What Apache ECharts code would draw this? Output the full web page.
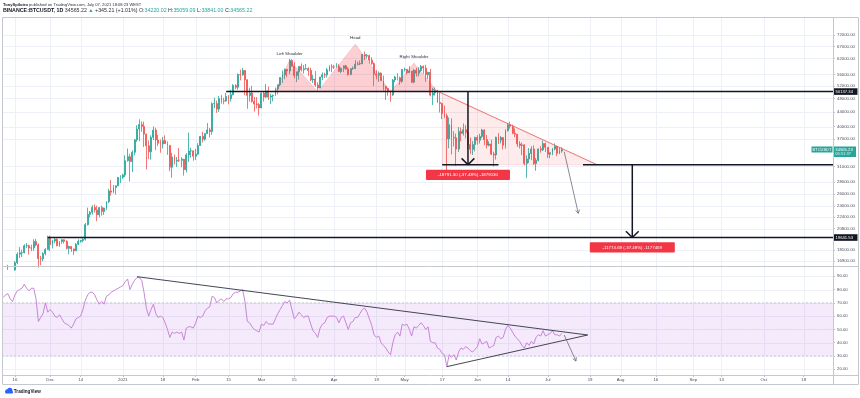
<!DOCTYPE html>
<html><head><meta charset="utf-8">
<script src="https://cdn.jsdelivr.net/npm/echarts@6/dist/echarts.min.js"></script>
<style>html,body{margin:0;padding:0;background:#fff}#c{width:860px;height:398px}</style>
</head><body><div id="c"></div><script>
// ---------- categories (daily, Nov 11 2020 .. Oct 30 2021) ----------
const categories = (function () {
  const out = []; const d = new Date(Date.UTC(2020, 10, 11));
  for (let i = 0; i < 354; i++) { out.push(d.toISOString().slice(0, 10)); d.setUTCDate(d.getUTCDate() + 1); }
  return out;
})();

// ---------- BTCUSDT daily candles, Nov 11 2020 .. Jul 7 2021 ----------
const opens = [
15296,15701,16276,16317,16068,15955,16716,17645,17804,17817,18621,18642,18370,18364,19160,18720,17150,17139,17719,18185,
19695,18765,19205,19422,18650,19148,19359,19167,18324,18541,18255,18036,18809,19175,19274,19427,21335,22797,23107,23821,23455,22719,23810,23232,23729,24712,26493,26281,27079,27385,28876,
28923,29331,32178,33000,31988,33950,36769,39432,40582,40089,38150,35404,34051,37372,39144,36742,35994,35828,36631,35891,35468,30850,32945,32078,32259,32254,32467,30366,33364,34252,34262,
33092,33526,35466,37618,36936,38290,39186,38795,46374,46420,44807,47969,47287,47153,48577,47911,49133,52119,51552,55906,55841,57408,54087,48891,49676,47074,46276,46106,
45135,49587,48440,50349,48374,48751,48882,50971,52376,54884,55851,57773,57221,61188,58968,55605,56900,58912,57648,58030,58102,57351,54083,54340,52303,51293,55025,55817,55777,57635,58746,
58740,58720,58950,57051,58202,59129,57991,55954,58077,58142,59769,59860,59978,63578,62959,63159,61334,60007,56150,55633,56425,53787,51691,51110,50047,49067,54022,55033,54824,53556,
57750,57828,56610,57213,53241,57473,56428,57380,58928,58281,55883,56751,49004,49702,49923,46760,46457,43538,42910,37003,40546,37370,37258,34655,38796,38324,39241,38529,35663,34606,35678,
37333,36693,37569,39187,36826,35520,35796,33553,33381,37389,36683,37313,35546,39020,40516,40144,38349,38093,35820,35484,35601,31608,32509,33679,34664,31593,32275,34700,34494,35912,
35046,33536,33856,34689,35288,33691,34220];
const highs = [
15965,16340,16480,16317,16180,16880,17858,18476,18179,18815,18965,18750,18766,19418,19484,18915,17457,17880,18360,19863,
19888,19342,19566,19527,19177,19420,19420,19294,18639,18557,18292,18948,19411,19349,19570,21560,23800,23285,24171,24295,24102,23837,24100,23789,24789,26867,28422,27500,27410,28996,29300,
29600,33300,34778,33600,34360,36939,40365,41950,41380,41350,38264,36628,37850,40100,39747,37950,36852,37469,37850,36415,35600,33826,33456,32945,34875,32921,32557,33783,38531,34934,34342,
34717,35984,37662,38708,38310,40955,39700,46794,48200,47310,48678,48985,48150,49707,49010,50689,52618,52530,56368,57700,58352,57533,54183,51374,52041,48424,48395,46638,
49790,50200,52640,51773,49448,49200,51450,52402,54900,57387,58150,58058,61844,61683,60633,56938,58982,60074,59468,59880,58589,58430,55830,57200,53230,55073,56700,56559,58400,59368,59800,
59490,60200,59791,58500,59272,59500,58650,58153,58894,61300,60800,61200,63800,64854,63800,63520,62500,60408,57526,57076,56757,55521,52130,51200,50500,54356,55460,56428,55200,57963,
58458,57939,58973,57214,57911,58360,58650,59500,59300,59595,56890,58000,51367,51483,50700,49795,46643,45799,43546,42451,42200,38856,38270,39920,39791,40841,40411,38877,37338,36488,37534,
37894,38225,39476,39289,37921,36457,36800,34068,37534,38400,37680,37438,39380,40978,41330,40528,39559,38200,36457,36137,35750,33298,34881,35298,35500,32730,34749,35297,36600,36100,
35058,33939,34909,35950,35293,35118,35059];
const lows = [
15200,15440,15952,15717,15790,15870,16530,17214,17335,17740,18360,17610,18000,18019,18565,16188,16438,16865,17517,18180,
18001,18330,18925,18565,18500,18857,18902,18200,17650,17911,17572,18020,18711,19000,19050,19278,21230,22350,22750,23060,21815,22353,22600,22703,23433,24500,25700,26101,25880,27320,27850,
28624,28946,31963,28130,29900,33288,36300,36500,38720,35111,30420,32531,32380,36701,34408,35357,33850,34800,35844,33400,30071,28850,31390,30900,31910,30837,29241,29842,31915,32825,32171,
32296,33418,35362,36161,36570,38215,37351,37988,45020,43727,43994,46400,46202,47014,46174,47003,48947,50901,50710,53863,55477,48967,44892,47003,46674,44106,45000,43000,
45115,47047,48100,47500,46300,47070,48882,49274,51846,53005,54272,55013,56078,58966,54600,53271,54120,57023,56270,57820,55450,53650,53000,51700,50427,51225,53950,54691,54902,57071,56769,
57935,58433,56955,56478,56800,57600,55473,55700,57654,57900,59300,59400,59770,61300,62020,60000,59580,52000,54221,53329,53695,50500,47500,48800,47000,48753,53222,53813,52330,53013,
57052,56044,56500,53057,52900,55200,55241,56900,56235,53400,54370,48600,46000,48868,46650,43825,42001,42250,30000,34850,33488,35257,31111,34031,36419,37800,37134,34684,33632,33379,34153,
35666,35920,37170,35555,34800,35258,33300,31000,32396,35782,35936,34600,34757,38757,39506,38116,37365,35129,34803,33336,31251,28805,31683,32286,31275,30151,32000,33862,34225,34017,
32712,32700,33316,34357,33125,33532,33841];
const closes = [
15701,16276,16317,16068,15955,16716,17645,17804,17817,18621,18642,18370,18364,19160,18720,17150,17139,17719,18185,19695,
18765,19205,19422,18650,19148,19359,19167,18324,18541,18255,18036,18809,19175,19274,19427,21335,22797,23107,23821,23455,22719,23810,23232,23729,24712,26493,26281,27079,27385,28876,28923,
29331,32178,33000,31988,33950,36769,39432,40582,40089,38150,35404,34051,37372,39144,36742,35994,35828,36631,35891,35468,30850,32945,32078,32259,32254,32467,30366,33364,34252,34262,33092,
33526,35466,37618,36936,38290,39186,38795,46374,46420,44807,47969,47287,47153,48577,47911,49133,52119,51552,55906,55841,57408,54087,48891,49676,47074,46276,46106,45135,
49587,48440,50349,48374,48751,48882,50971,52376,54884,55851,57773,57221,61188,58968,55605,56900,58912,57648,58030,58102,57351,54083,54340,52303,51293,55025,55817,55777,57635,58746,58740,
58720,58950,57051,58202,59129,57991,55954,58077,58142,59769,59860,59978,63578,62959,63159,61334,60007,56150,55633,56425,53787,51691,51110,50047,49067,54022,55033,54824,53556,57750,
57828,56610,57213,53241,57473,56428,57380,58928,58281,55883,56751,49004,49702,49923,46760,46457,43538,42910,37003,40546,37370,37258,34655,38796,38324,39241,38529,35663,34606,35678,37333,
36693,37569,39187,36826,35520,35796,33553,33381,37389,36683,37313,35546,39020,40516,40144,38349,38093,35820,35484,35601,31608,32509,33679,34664,31593,32275,34700,34494,35912,35046,
33536,33856,34689,35288,33691,34220,34565];

// ---------- RSI(14) ----------
const rsiValues = [
74,76,77,73,71,76,79,80,81,84, 81,79,81,81,73,56,59,62,70,63, 65,63,60,59,61,58,55,54,53,51,
54,58,59,60,65,72,76,78,78,76, 72,69,71,69,75,76,78,79,80,81, 82,83,86,88,80,84,87,89,89,87,
78,66,60,65,69,62,59,60,59,55, 50,44,48,47,48,47,48,42,51,52, 52,51,55,60,59,60,64,66,67,75,
74,70,72,73,71,73,73,74,77,78, 78,79,80,71,56,55,52,50,49,48, 54,53,56,54,54,54,58,62,65,68,
71,70,72,65,58,60,63,61,59,60, 60,54,49,47,44,51,54,55,59,60, 60,60,59,55,59,60,55,50,55,56,
59,59,62,65,66,63,58,53,46,44, 45,40,38,36,33,31,40,46,48,45, 54,53,54,50,45,52,51,53,55,53,
50,52,41,40,40,36,35,32,31,22, 31,29,31,27,33,36,35,37,36,34, 33,35,37,43,39,40,41,36,37,38,
44,45,43,44,50,53,51,48,45,43, 41,38,36,40,38,41,39,44,46,45, 49,45,46,47,49,46,46,45,47];

// ---------- axis ticks ----------
const priceTicks = [16900,18100,20800,22400,24000,26000,28000,31000,37000,40000,44000,48000,52000,56000,62000,67000,72000];
const rsiTicks = [20,30,40,50,60,70,80,90];
const timeTickDates = ['2020-11-16','2020-12-01','2020-12-14','2021-01-01','2021-01-18','2021-02-01','2021-02-15','2021-03-01','2021-03-15','2021-04-01','2021-04-19','2021-05-01','2021-05-17','2021-06-01','2021-06-14','2021-07-01','2021-07-19','2021-08-01','2021-08-16','2021-09-01','2021-09-13','2021-10-01','2021-10-18'];
const timeTickLabels = ['16','Dec','14','2021','18','Feb','15','Mar','15','Apr','19','May','17','Jun','14','Jul','19','Aug','16','Sep','13','Oct','18'];

// ---------- drawings (data coordinates) ----------
const necklinePrice = 50137.34, necklineStart = '2021-02-14';
const supportPrice = 19641.53, supportStart = '2020-11-30';
const basePrice = 31346;
const lastPrice = 34565.23;
const hsLabels = ['Left Shoulder', 'Head', 'Right Shoulder'];
const hsTriangles = [
  [['2021-03-07', 50137.34], ['2021-03-13', 61380], ['2021-03-25', 50137.34]],
  [['2021-03-25', 50137.34], ['2021-04-10', 68050], ['2021-04-25', 50137.34]],
  [['2021-04-25', 50137.34], ['2021-05-05', 60210], ['2021-05-15', 50137.34]]
];
const descLine = [['2021-05-13', 50940], ['2021-07-22', 31346]];
const descFill = [['2021-05-17', 49660], ['2021-07-22', 31346], ['2021-05-17', 31346]];
const measure1Base = [['2021-05-17', 31346], ['2021-06-10', 31346]];
const measure1Arrow = [['2021-05-28', 50137.34], ['2021-05-28', 31346]];
const measure1Text = '-18791.30 (-37.48%) -1879130';
const measure2BaseStart = '2021-07-16';
const measure2Arrow = [['2021-08-06', 31346], ['2021-08-06', 19641.53]];
const measure2Text = '-11774.69 (-37.48%) -1177469';
const projArrow = [['2021-07-08', 34070], ['2021-07-14', 22940]];
const rsiUpperLine = [['2021-01-07', 89.7], ['2021-07-18', 45.8]];
const rsiLowerLine = [['2021-05-19', 22], ['2021-07-18', 45.8]];
const rsiArrow = [['2021-07-08', 45.8], ['2021-07-13', 26.2]];

// ---------- build ----------
const FONT = 'Liberation Sans';
const idx = d => categories.indexOf(d);
const candleData = closes.map((c, i) => [opens[i], c, lows[i], highs[i]]);
const tickSet = new Set(timeTickDates);
const tickLabel = {}; timeTickDates.forEach((d, i) => { tickLabel[d] = timeTickLabels[i]; });

function seg(a, b, style) { return { type: 'line', shape: { x1: a[0], y1: a[1], x2: b[0], y2: b[1] }, style }; }
function arrowHead(p0, p1, len, ang, style) {
  const a = Math.atan2(p1[1] - p0[1], p1[0] - p0[0]);
  return [a + Math.PI - ang, a + Math.PI + ang].map(t => seg(p1, [p1[0] + len * Math.cos(t), p1[1] + len * Math.sin(t)], style));
}
function txt(text, x, y, opt) {
  return { type: 'text', style: Object.assign({ text, x, y, align: 'center', verticalAlign: 'middle', fill: '#2a2e39', fontSize: 4.4, fontFamily: FONT }, opt || {}) };
}

function renderMainGrid(params, api) {
  const cs = params.coordSys, right = cs.x + cs.width, ch = [];
  const st = { stroke: '#edf0f6', lineWidth: 1 };
  priceTicks.forEach(v => { const y = Math.round(api.coord([0, v])[1]) + 0.5; ch.push(seg([cs.x, y], [right, y], st)); });
  timeTickDates.forEach(d => { const x = Math.round(api.coord([idx(d), 30000])[0]) + 0.5; ch.push(seg([x, cs.y], [x, cs.y + cs.height], st)); });
  return { type: 'group', children: ch };
}

function renderMainAnno(params, api) {
  const cs = params.coordSys, right = cs.x + cs.width, ch = [];
  const P = p => api.coord([idx(p[0]), p[1]]);
  // head & shoulders
  hsTriangles.forEach((t, k) => {
    const pts = t.map(P);
    ch.push({ type: 'polygon', shape: { points: pts }, style: { fill: 'rgba(242,54,69,0.24)', stroke: 'rgba(242,54,69,0.28)', lineWidth: 0.5 } });
    ch.push(txt(hsLabels[k], pts[1][0], pts[1][1] - 6.5));
  });
  // descending triangle
  ch.push({ type: 'polygon', shape: { points: descFill.map(P) }, style: { fill: 'rgba(242,54,69,0.10)', stroke: 'rgba(242,54,69,0.25)', lineWidth: 0.5 } });
  ch.push(seg(P(descLine[0]), P(descLine[1]), { stroke: '#f26b6b', lineWidth: 0.9 }));
  const black = { stroke: '#131722', lineWidth: 1.5 };
  // neckline & support
  const n0 = P([necklineStart, necklinePrice]); ch.push(seg(n0, [right, n0[1]], black));
  const s0 = P([supportStart, supportPrice]); ch.push(seg(s0, [right, s0[1]], black));
  // measure 1
  ch.push(seg(P(measure1Base[0]), P(measure1Base[1]), black));
  const a0 = P(measure1Arrow[0]), a1 = P(measure1Arrow[1]);
  ch.push(seg(a0, a1, black)); ch.push(...arrowHead(a0, a1, 9, Math.PI / 4, black));
  ch.push({ type: 'rect', shape: { x: a1[0] - 42, y: a1[1] + 5, width: 84, height: 10.3, r: 1 }, style: { fill: '#f23645' } });
  ch.push(txt(measure1Text, a1[0], a1[1] + 10.2, { fill: '#fff' }));
  // measure 2
  const b0 = P(measure2Arrow[0]), b1 = P(measure2Arrow[1]);
  const m2s = P([measure2BaseStart, basePrice]); ch.push(seg(m2s, [right, m2s[1]], black));
  ch.push(seg(b0, b1, black)); ch.push(...arrowHead(b0, b1, 9, Math.PI / 4, black));
  ch.push({ type: 'rect', shape: { x: b1[0] - 42.5, y: b1[1] + 4.7, width: 85, height: 10.2, r: 1 }, style: { fill: '#f23645' } });
  ch.push(txt(measure2Text, b1[0], b1[1] + 9.8, { fill: '#fff' }));
  // projection arrow
  const g = { stroke: '#6a6d78', lineWidth: 0.8 };
  const g0 = P(projArrow[0]), g1 = P(projArrow[1]);
  ch.push(seg(g0, g1, g)); ch.push(...arrowHead(g0, g1, 4, Math.PI / 6, g));
  // price tags on axis
  [[necklinePrice, '50137.34'], [supportPrice, '19641.53']].forEach(([v, t]) => {
    const y = api.coord([0, v])[1];
    ch.push({ type: 'rect', shape: { x: right + 0.5, y: y - 3.3, width: 24, height: 6.6 }, style: { fill: '#131722' } });
    ch.push(txt(t, right + 2.5, y, { fill: '#fff', align: 'left', fontSize: 4.2 }));
  });
  const yl = api.coord([0, lastPrice])[1];
  ch.push({ type: 'rect', shape: { x: right - 21.5, y: yl - 3, width: 21, height: 6 }, style: { fill: '#26a69a' } });
  ch.push(txt('BTCUSDT', right - 11, yl, { fill: '#fff', fontSize: 4 }));
  ch.push({ type: 'rect', shape: { x: right + 0.5, y: yl - 3, width: 22.5, height: 10.5 }, style: { fill: '#26a69a' } });
  ch.push(txt('34565.23', right + 2.3, yl, { fill: '#fff', align: 'left', fontSize: 4.2 }));
  ch.push(txt('06:51:37', right + 2.3, yl + 4.6, { fill: '#e0f2f1', align: 'left', fontSize: 4 }));
  return { type: 'group', children: ch };
}

function renderRsiBack(params, api) {
  const cs = params.coordSys, right = cs.x + cs.width, ch = [];
  const st = { stroke: '#edf0f6', lineWidth: 1 };
  const y70 = api.coord([0, 70])[1], y30 = api.coord([0, 30])[1], y50 = api.coord([0, 50])[1];
  rsiTicks.forEach(v => { const y = Math.round(api.coord([0, v])[1]) + 0.5; ch.push(seg([cs.x, y], [right, y], st)); });
  timeTickDates.forEach(d => { const x = Math.round(api.coord([idx(d), 50])[0]) + 0.5; ch.push(seg([x, cs.y], [x, cs.y + cs.height], st)); });
  ch.push({ type: 'rect', shape: { x: cs.x, y: y70, width: cs.width, height: y30 - y70 }, style: { fill: 'rgba(170,90,235,0.13)' } });
  const dash = { stroke: '#b4b6c0', lineWidth: 0.6, lineDash: [2, 2] };
  ch.push(seg([cs.x, y70], [right, y70], dash)); ch.push(seg([cs.x, y30], [right, y30], dash));
  ch.push(seg([cs.x, y50], [right, y50], { stroke: '#d9cfe6', lineWidth: 0.5, lineDash: [1, 2] }));
  return { type: 'group', children: ch };
}

function renderRsiAnno(params, api) {
  const ch = [];
  const P = p => api.coord([idx(p[0]), p[1]]);
  const k = { stroke: '#2f3240', lineWidth: 0.9 };
  ch.push(seg(P(rsiUpperLine[0]), P(rsiUpperLine[1]), k));
  ch.push(seg(P(rsiLowerLine[0]), P(rsiLowerLine[1]), k));
  const g = { stroke: '#6a6d78', lineWidth: 0.8 };
  const a0 = P(rsiArrow[0]), a1 = P(rsiArrow[1]);
  ch.push(seg(a0, a1, g)); ch.push(...arrowHead(a0, a1, 4, Math.PI / 6, g));
  return { type: 'group', children: ch };
}

const axisLabelStyle = { fontSize: 4.3, color: '#4a4e5a', fontFamily: FONT };
const option = {
  animation: false,
  backgroundColor: '#ffffff',
  grid: [
    { left: 2, right: 27, top: 18, height: 248 },
    { left: 2, right: 27, top: 267, height: 108 }
  ],
  xAxis: [
    { type: 'category', gridIndex: 0, data: categories, boundaryGap: true, axisLine: { show: false }, axisTick: { show: false }, axisLabel: { show: false }, splitLine: { show: false } },
    { type: 'category', gridIndex: 1, data: categories, boundaryGap: true,
      axisLine: { show: false },
      axisTick: { show: true, alignWithLabel: true, length: 2, interval: (i, v) => tickSet.has(v), lineStyle: { color: '#9598a1', width: 0.6 } },
      axisLabel: Object.assign({ show: true, margin: 3, interval: (i, v) => tickSet.has(v), formatter: v => tickLabel[v] || '' }, axisLabelStyle),
      splitLine: { show: false } }
  ],
  yAxis: [
    { type: 'log', logBase: 10, gridIndex: 0, position: 'right', min: 16360, max: 80400, scale: true,
      axisLine: { show: false }, splitLine: { show: false },
      axisTick: { show: true, length: 2, customValues: priceTicks, lineStyle: { color: '#9598a1', width: 0.6 } },
      axisLabel: Object.assign({ show: true, margin: 4, customValues: priceTicks, formatter: v => Number(v).toFixed(2) }, axisLabelStyle) },
    { type: 'value', gridIndex: 1, position: 'right', min: 15.7, max: 97,
      axisLine: { show: false }, splitLine: { show: false },
      axisTick: { show: true, length: 2, customValues: rsiTicks, lineStyle: { color: '#9598a1', width: 0.6 } },
      axisLabel: Object.assign({ show: true, margin: 4, customValues: rsiTicks, formatter: v => Number(v).toFixed(2) }, axisLabelStyle) }
  ],
  series: [
    { type: 'custom', xAxisIndex: 0, yAxisIndex: 0, data: [[0, 30000]], renderItem: renderMainGrid, z: 1, silent: true, clip: false },
    { type: 'candlestick', xAxisIndex: 0, yAxisIndex: 0, data: candleData, z: 3, barWidth: 1.4, clip: true,
      itemStyle: { color: '#26a69a', color0: '#ef5350', borderColor: '#26a69a', borderColor0: '#ef5350', borderWidth: 0.8 } },
    { type: 'custom', xAxisIndex: 0, yAxisIndex: 0, data: [[0, 30000]], renderItem: renderMainAnno, z: 5, silent: true, clip: false },
    { type: 'custom', xAxisIndex: 1, yAxisIndex: 1, data: [[0, 50]], renderItem: renderRsiBack, z: 1, silent: true, clip: false },
    { type: 'line', xAxisIndex: 1, yAxisIndex: 1, data: rsiValues, z: 3, showSymbol: false, symbol: 'none',
      lineStyle: { color: '#c27ad0', width: 0.9 } },
    { type: 'custom', xAxisIndex: 1, yAxisIndex: 1, data: [[0, 50]], renderItem: renderRsiAnno, z: 5, silent: true, clip: false }
  ],
  graphic: [
    { type: 'rect', silent: true, z: 100, shape: { x: 2.5, y: 17.5, width: 856, height: 367 }, style: { fill: 'none', stroke: '#c5c8cf', lineWidth: 1 } },
    { type: 'line', silent: true, z: 100, shape: { x1: 2.5, y1: 266.5, x2: 858.5, y2: 266.5 }, style: { stroke: '#c5c8cf', lineWidth: 1 } },
    { type: 'line', silent: true, z: 100, shape: { x1: 2.5, y1: 375.5, x2: 858.5, y2: 375.5 }, style: { stroke: '#c5c8cf', lineWidth: 1 } },
    { type: 'line', silent: true, z: 100, shape: { x1: 833.5, y1: 17.5, x2: 833.5, y2: 384.5 }, style: { stroke: '#c5c8cf', lineWidth: 1 } },
    { type: 'text', silent: true, z: 100, left: 3, top: 2.5,
      style: { text: '{b|TonySpilotro} published on TradingView.com, July 07, 2021 18:08:23 WEST', fill: '#2a2e39', fontSize: 4.1, fontFamily: FONT,
        rich: { b: { fontWeight: 'bold', fontSize: 4.1, fontFamily: FONT, fill: '#131722' } } } },
    { type: 'text', silent: true, z: 100, left: 3, top: 8,
      style: { text: '{b|BINANCE:BTCUSDT, 1D} 34565.22 {g|▲} +345.21 (+1.01%) O:{g|34220.02} H:{g|35059.09} L:{g|33841.00} C:{g|34565.22}', fill: '#2a2e39', fontSize: 5.3, fontFamily: FONT,
        rich: { b: { fontWeight: 'bold', fontSize: 5.3, fontFamily: FONT, fill: '#131722' }, g: { fill: '#26a69a', fontSize: 5.3, fontFamily: FONT } } } },
    { type: 'group', silent: true, z: 100, children: [
      { type: 'circle', shape: { cx: 7.2, cy: 391.2, r: 2 }, style: { fill: '#2962ff' } },
      { type: 'circle', shape: { cx: 9.8, cy: 390.3, r: 2.6 }, style: { fill: '#2962ff' } },
      { type: 'rect', shape: { x: 5.2, y: 391, width: 7.8, height: 2.4, r: 1 }, style: { fill: '#2962ff' } },
      { type: 'text', style: { text: 'TradingView', x: 13.8, y: 391.4, verticalAlign: 'middle', fill: '#131722', fontSize: 4.6, fontWeight: 'bold', fontFamily: FONT } }
    ] }
  ]
};
const chart = echarts.init(document.getElementById('c'), null, { renderer: 'canvas', width: 860, height: 398 });
chart.setOption(option);
</script></body></html>
